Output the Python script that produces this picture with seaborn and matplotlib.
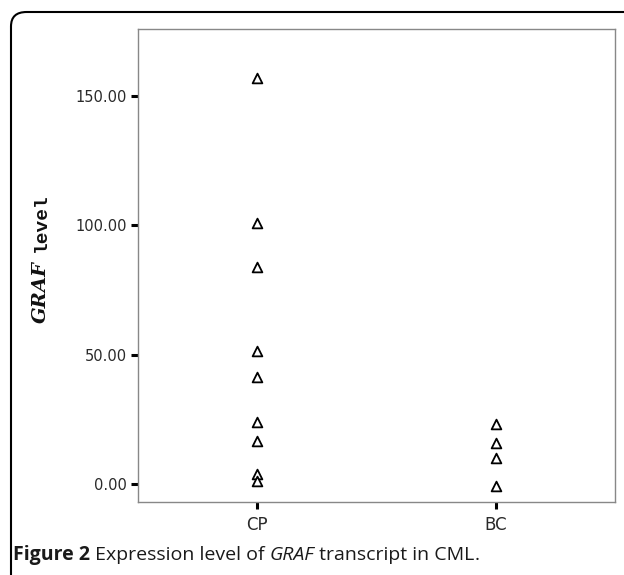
import matplotlib
matplotlib.use("Agg")
import matplotlib.pyplot as plt
from matplotlib.patches import FancyBboxPatch
import seaborn as sns
import pandas as pd

# ---- data ----
categories = ["CP", "BC"]
cp_values = [157.0, 101.0, 84.0, 51.5, 41.5, 24.0, 16.5, 4.0, 1.0]
bc_values = [23.0, 16.0, 10.0, -1.0]
y_ticks = [0, 50, 100, 150]
y_tick_labels = ["0.00", "50.00", "100.00", "150.00"]

df = pd.DataFrame({
    "group": [categories[0]] * len(cp_values) + [categories[1]] * len(bc_values),
    "value": cp_values + bc_values,
})

sns.set_theme(style="white")
plt.rcParams["font.family"] = ["DejaVu Sans"]

W, H = 624, 575
fig = plt.figure(figsize=(W / 100, H / 100), dpi=100)
left, right, top, bottom = 138, 615, 29, 502
ax = fig.add_axes([left / W, 1 - bottom / H, (right - left) / W, (bottom - top) / H])

sns.stripplot(data=df, x="group", y="value", order=categories, jitter=False,
              marker="^", size=7, color="white", edgecolor="black",
              linewidth=1.3, ax=ax, zorder=3)

ax.set_xlim(-0.5, 1.5)
ax.set_ylim(-7, 176)
ax.set_yticks(y_ticks)
ax.set_yticklabels(y_tick_labels)
ax.set_xlabel("")
ax.set_ylabel("")
for s in ax.spines.values():
    s.set_color("#888888")
    s.set_linewidth(1.0)
ax.tick_params(axis="both", which="both", direction="out", length=5, width=2.2,
               color="black", labelsize=10.5, labelcolor="#2a2a2a", pad=3,
               left=True, bottom=True)
ax.tick_params(axis="x", labelsize=12, pad=5)

# y label: "GRAF" bold italic serif + "level" bold monospace
fig.canvas.draw()
r = fig.canvas.get_renderer()
inv = fig.transFigure.inverted()
x_lab = 41 / W
y_center = 1 - 258 / H
t1 = fig.text(x_lab, 0, "GRAF", rotation=90, ha="center", va="bottom",
              fontsize=14, fontweight="bold", fontstyle="italic",
              family="DejaVu Serif", color="#111111")
t2 = fig.text(x_lab, 0, "level", rotation=90, ha="center", va="bottom",
              fontsize=14, fontweight="bold", family="Liberation Mono",
              color="#111111")
fig.canvas.draw()
b1 = t1.get_window_extent(r).transformed(inv)
b2 = t2.get_window_extent(r).transformed(inv)
gap = 9 / H
total = b1.height + gap + b2.height
y_start = y_center - total / 2
t1.set_y(y_start)
t2.set_y(y_start + b1.height + gap)

# caption
cx, cy = 13 / W, 1 - 555 / H
parts = [("Figure 2", "bold", "normal"), (" Expression level of ", "normal", "normal"),
         ("GRAF", "normal", "italic"), (" transcript in CML", "normal", "normal"),
         (".", "normal", "normal")]
for txt, w, st in parts:
    t = fig.text(cx, cy, txt, ha="left", va="center", fontsize=14,
                 fontweight=w, fontstyle=st, family="Open Sans", color="#1a1a1a")
    fig.canvas.draw()
    bb = t.get_window_extent(r).transformed(inv)
    cx = bb.x1

# outer rounded frame
box = FancyBboxPatch((11 / W, -0.1), 1.2, 1 - 12 / H + 0.1,
                     boxstyle="round,pad=0,rounding_size=0.025",
                     transform=fig.transFigure, fill=False,
                     edgecolor="black", linewidth=1.5, clip_on=False)
fig.patches.append(box)

fig.savefig("out.png", dpi=100, facecolor="white")
